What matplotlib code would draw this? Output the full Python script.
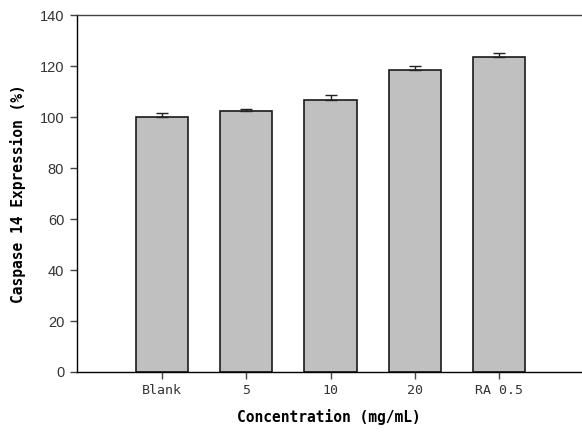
import matplotlib
matplotlib.use("Agg")
import matplotlib.pyplot as plt

categories = ["Blank", "5", "10", "20", "RA 0.5"]
values = [100.0, 102.5, 106.8, 118.6, 123.6]
errors = [1.6, 0.9, 1.8, 1.5, 1.6]
yticks = [0, 20, 40, 60, 80, 100, 120, 140]

fig = plt.figure(figsize=(5.82, 4.34), dpi=100)
ax = fig.add_axes([0.1318, 0.1429, 0.8682, 0.8214])

x = list(range(len(categories)))
ax.bar(x, values, width=0.62, color="#c0c0c0", edgecolor="#1a1a1a", linewidth=1.2, zorder=2)
ax.errorbar(x, values, yerr=[[0] * len(errors), errors], fmt="none", ecolor="#222222",
            elinewidth=1.0, capsize=4.3, capthick=1.0, zorder=3)

ax.set_xlim(-1.01, 4.98)
ax.set_ylim(0, 140)
ax.set_yticks(yticks)
ax.set_xticks(x)
ax.set_xticklabels(categories, family="DejaVu Sans Mono", fontsize=9.5, color="#333333")
for lbl in ax.get_yticklabels():
    lbl.set_family("Liberation Sans")
    lbl.set_fontsize(10.5)
    lbl.set_color("#333333")

ax.spines["right"].set_visible(False)
for s in ["left", "bottom", "top"]:
    ax.spines[s].set_linewidth(1.0)
ax.spines["top"].set_color("#444444")
ax.tick_params(axis="both", direction="out", length=5, width=1.0, pad=4, color="#444444")

ax.set_xlabel("Concentration (mg/mL)", family="DejaVu Sans Mono", fontweight="bold", fontsize=10.5, labelpad=8)
ax.set_ylabel("Caspase 14 Expression (%)", family="DejaVu Sans Mono", fontweight="bold", fontsize=10.5, labelpad=10)

fig.savefig("out.png", dpi=100)
